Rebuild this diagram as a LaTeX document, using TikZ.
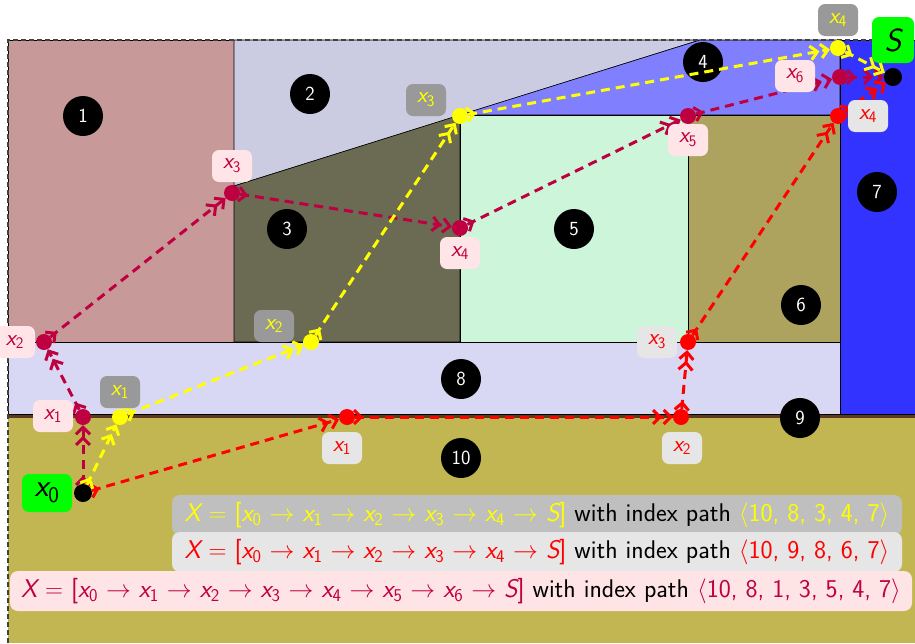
\documentclass[tikz,border=0pt]{standalone}
\usetikzlibrary{arrows.meta,decorations.markings}
\definecolor{rOne}{HTML}{C89999}
\definecolor{rTwo}{HTML}{CBCBE1}
\definecolor{rThree}{HTML}{6B6A52}
\definecolor{rFour}{HTML}{8080FF}
\definecolor{rFive}{HTML}{CCF5DA}
\definecolor{rSix}{HTML}{ADA35E}
\definecolor{rSeven}{HTML}{3333FF}
\definecolor{rEight}{HTML}{D8D8F5}
\definecolor{rNine}{HTML}{5C3A1E}
\definecolor{rTen}{HTML}{C2B653}
\definecolor{pY}{HTML}{FFFF00}
\definecolor{pR}{HTML}{FF0000}
\definecolor{pC}{HTML}{BF0040}
\definecolor{lblY}{HTML}{999999}
\definecolor{lblR}{HTML}{E6E6E6}
\definecolor{lblC}{HTML}{FFE4E8}
\definecolor{legY}{HTML}{BFBFBF}
\definecolor{legR}{HTML}{E6E6E6}
\definecolor{legC}{HTML}{FFE4E6}
\definecolor{gStart}{HTML}{00FF00}
\newcommand\xv[1]{{\itshape x}\textsubscript{#1}}
\newcommand\tto{~$\to$~}
\begin{document}
\begin{tikzpicture}[x=1pt,y=-1pt,
 region/.style={draw=black, line width=0.6pt},
 num/.style={circle, fill=black, text=white, minimum size=40pt, inner sep=0pt, font=\sffamily\fontsize{20}{24}\selectfont},
 pt/.style={circle, inner sep=0pt, minimum size=16pt},
 endpt/.style={circle, fill=black, inner sep=0pt, minimum size=18pt},
 route/.style={line width=3pt, dash pattern=on 9pt off 6pt,
   -{Straight Barb[length=7pt,width=14pt] Straight Barb[length=7pt,width=14pt]},
   postaction={decorate, decoration={markings, mark=at position 8pt with {\arrow{Straight Barb[length=7pt,width=14pt]}}}}},
 lbl/.style={rounded corners=7pt, minimum width=40pt, minimum height=32pt, inner sep=2pt, font=\sffamily\fontsize{23}{26}\selectfont},
 legbox/.style={rounded corners=8pt, minimum height=40pt, inner sep=2pt, font=\sffamily\fontsize{25.6}{30}\selectfont},
 startlbl/.style={rounded corners=7pt, fill=gStart, inner sep=2pt, font=\sffamily\fontsize{32}{36}\selectfont}
]
\useasboundingbox (0,0) rectangle (915,643);
% regions
\fill[rTen] (8,418) rectangle (915,643);
\fill[rNine] (8,414) rectangle (915,418);
\filldraw[region, fill=rOne] (8,40) rectangle (234,342);
\filldraw[region, fill=rTwo] (234,40) -- (700,40) -- (234,186) -- cycle;
\filldraw[region, fill=rThree] (234,186) -- (460,115) -- (460,342) -- (234,342) -- cycle;
\filldraw[region, fill=rFour] (460,115) -- (700,40) -- (840,40) -- (840,115) -- cycle;
\filldraw[region, fill=rFive] (460,115) rectangle (688,342);
\filldraw[region, fill=rSix] (688,115) rectangle (840,342);
\filldraw[region, fill=rSeven] (840,40) rectangle (915,414);
\filldraw[region, fill=rEight] (8,342) rectangle (840,414);
\draw[black!75, line width=1.2pt, dash pattern=on 5pt off 3pt] (8,643) -- (8,40) -- (915,40);
% region numbers
\node[num] (n1) at (83,116) {1};
\node[num] (n2) at (310,94) {2};
\node[num] (n3) at (287,229) {3};
\node[num] (n4) at (703,62) {4};
\node[num] (n5) at (574,229) {5};
\node[num] (n6) at (801,305) {6};
\node[num] (n7) at (877,192) {7};
\node[num] (n8) at (461,379) {8};
\node[num] (n9) at (800,418) {9};
\node[num] (n10) at (461,458) {10};
% points
\node[endpt] (x0) at (83,493) {};
\node[endpt] (S) at (893,77) {};
\node[pt, fill=pY] (y1) at (120,417) {};
\node[pt, fill=pY] (y2) at (311,342) {};
\node[pt, fill=pY] (y3) at (460,116) {};
\node[pt, fill=pY] (y4) at (838,48) {};
\node[pt, fill=pR] (r1) at (347,417) {};
\node[pt, fill=pR] (r2) at (681,417) {};
\node[pt, fill=pR] (r3) at (688,342) {};
\node[pt, fill=pR] (r4) at (838,116) {};
\node[pt, fill=pC] (c1) at (83,417) {};
\node[pt, fill=pC] (c2) at (44,342) {};
\node[pt, fill=pC] (c3) at (232,193) {};
\node[pt, fill=pC] (c4) at (460,228) {};
\node[pt, fill=pC] (c5) at (688,116) {};
\node[pt, fill=pC] (c6) at (840,77) {};
% routes
\draw[route, pC] (x0) -- (c1);
\draw[route, pC] (c1) -- (c2);
\draw[route, pC] (c2) -- (c3);
\draw[route, pC] (c3) -- (c4);
\draw[route, pC] (c4) -- (c5);
\draw[route, pC] (c5) -- (c6);
\draw[route, pC] (c6) -- (S);
\draw[route, pR] (x0) -- (r1);
\draw[route, pR] (r1) -- (r2);
\draw[route, pR] (r2) -- (r3);
\draw[route, pR] (r3) -- (r4);
\draw[route, pR] (r4) -- (S);
\draw[route, pY] (x0) -- (y1);
\draw[route, pY] (y1) -- (y2);
\draw[route, pY] (y2) -- (y3);
\draw[route, pY] (y3) -- (y4);
\draw[route, pY] (y4) -- (S);
% labels
\node[lbl, fill=lblY, text=pY] (ly1) at (120,392) {\xv{1}};
\node[lbl, fill=lblY, text=pY] (ly2) at (274,326) {\xv{2}};
\node[lbl, fill=lblY, text=pY] (ly3) at (426,100) {\xv{3}};
\node[lbl, fill=lblY, text=pY] (ly4) at (838,20) {\xv{4}};
\node[lbl, fill=lblR, text=pR] (lr1) at (342,448) {\xv{1}};
\node[lbl, fill=lblR, text=pR] (lr2) at (682,448) {\xv{2}};
\node[lbl, fill=lblR, text=pR] (lr3) at (657,342) {\xv{3}};
\node[lbl, fill=lblR, text=pR] (lr4) at (868,116) {\xv{4}};
\node[lbl, fill=lblC, text=pC] (lc1) at (53,416) {\xv{1}};
\node[lbl, fill=lblC, text=pC] (lc2) at (15,342) {\xv{2}};
\node[lbl, fill=lblC, text=pC] (lc3) at (232,166) {\xv{3}};
\node[lbl, fill=lblC, text=pC] (lc4) at (460,253) {\xv{4}};
\node[lbl, fill=lblC, text=pC] (lc5) at (688,140) {\xv{5}};
\node[lbl, fill=lblC, text=pC] (lc6) at (795,76) {\xv{6}};
\node[startlbl, minimum width=50pt, minimum height=38pt] (lx0) at (47,493) {\xv{0}};
\node[startlbl, minimum width=42pt, minimum height=46pt] (lS) at (893,40) {\itshape S};
% legend
\node[legbox, fill=legY, minimum width=730pt] (legA) at (537,515) {\color{pY}{\itshape X}~$=$~[\xv{0}\tto\xv{1}\tto\xv{2}\tto\xv{3}\tto\xv{4}\tto{\itshape S}] \color{black}with index path \color{pY}$\langle$10, 8, 3, 4, 7$\rangle$};
\node[legbox, fill=legR, minimum width=730pt] (legB) at (537,552) {\color{pR}{\itshape X}~$=$~[\xv{0}\tto\xv{1}\tto\xv{2}\tto\xv{3}\tto\xv{4}\tto{\itshape S}] \color{black}with index path \color{pR}$\langle$10, 9, 8, 6, 7$\rangle$};
\node[legbox, fill=legC, minimum width=902pt] (legC) at (461,591) {\color{pC}{\itshape X}~$=$~[\xv{0}\tto\xv{1}\tto\xv{2}\tto\xv{3}\tto\xv{4}\tto\xv{5}\tto\xv{6}\tto{\itshape S}] \color{black}with index path \color{pC}$\langle$10, 8, 1, 3, 5, 4, 7$\rangle$};
\end{tikzpicture}
\end{document}
